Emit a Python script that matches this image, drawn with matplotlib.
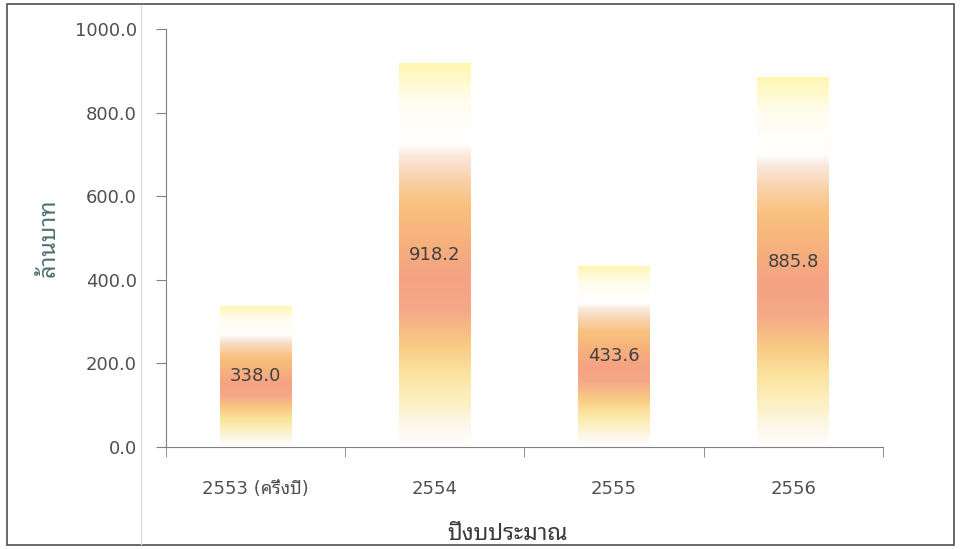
import numpy as np
import matplotlib
matplotlib.use('Agg')
import matplotlib.pyplot as plt
from matplotlib.colors import LinearSegmentedColormap

categories = ['2553 (ครึ่งปี)', '2554', '2555', '2556']
values = [338.0, 918.2, 433.6, 885.8]
y_ticks = [0, 200, 400, 600, 800, 1000]

plt.rcParams['font.family'] = ['DejaVu Sans', 'Noto Sans Thai Looped']

# vertical fill of each bar, bottom (0) to top (1)
stops = [(0.00, '#ffffff'), (0.05, '#fdf8ec'), (0.12, '#fcefc0'),
         (0.19, '#fce4a0'), (0.26, '#f9cc84'), (0.36, '#f5a888'),
         (0.44, '#f4a284'), (0.55, '#f7b37c'), (0.63, '#f9c17e'),
         (0.70, '#f8d3ac'), (0.76, '#fbe8dc'), (0.79, '#ffffff'),
         (0.90, '#fffdf0'), (1.00, '#fff6b0')]
fire = LinearSegmentedColormap.from_list('fire', stops)
grad = np.linspace(0, 1, 256).reshape(-1, 1)

fig = plt.figure(figsize=(9.61, 5.49), dpi=100)
ax = fig.add_axes([0.1727, 0.1858, 0.7461, 0.7614])

x = np.arange(len(categories))
bars = ax.bar(x, values, width=0.4, color='none', edgecolor='none')
for b, v in zip(bars, values):
    im = ax.imshow(grad, cmap=fire, origin='lower', aspect='auto',
                   extent=[b.get_x(), b.get_x() + b.get_width(), 0, v],
                   interpolation='bilinear', zorder=2)
    im.set_clip_path(b)
    ax.text(b.get_x() + b.get_width() / 2, v / 2, f'{v:.1f}',
            ha='center', va='center', fontsize=13, color='#404040', zorder=3)

ax.set_xlim(-0.5, len(categories) - 0.5)
ax.set_ylim(0, 1000)
ax.set_yticks(y_ticks)
ax.set_yticklabels([f'{t:.1f}' for t in y_ticks])
ax.set_xticks(x)
ax.set_xticklabels(categories)
ax.set_xticks(np.arange(len(categories) + 1) - 0.5, minor=True)

for s in ['top', 'right']:
    ax.spines[s].set_visible(False)
for s in ['left', 'bottom']:
    ax.spines[s].set_color('#808080')
ax.tick_params(axis='y', length=7, color='#808080', labelsize=13,
               labelcolor='#505050', pad=14)
ax.tick_params(axis='x', which='major', length=0, labelsize=13,
               labelcolor='#505050', pad=24)
ax.tick_params(axis='x', which='minor', length=7, color='#808080')

ax.set_ylabel('ล้านบาท', fontsize=17, color='#4f7070')
ax.yaxis.set_label_coords(-0.148, 0.5)
ax.set_xlabel('ปีงบประมาณ', fontsize=16.5, color='#3a3a3a')
ax.xaxis.set_label_coords(0.477, -0.18)

# faint fold line and frame around the whole chart
fig.add_artist(plt.Line2D([141 / 961, 141 / 961], [0.01, 0.99], color='#dcdcdc', lw=1))
fig.patches.append(plt.Rectangle((0.007, 0.007), 0.986, 0.985, transform=fig.transFigure,
                                 fill=False, edgecolor='#505050', linewidth=1.2))

fig.savefig('out.png', dpi=100)
